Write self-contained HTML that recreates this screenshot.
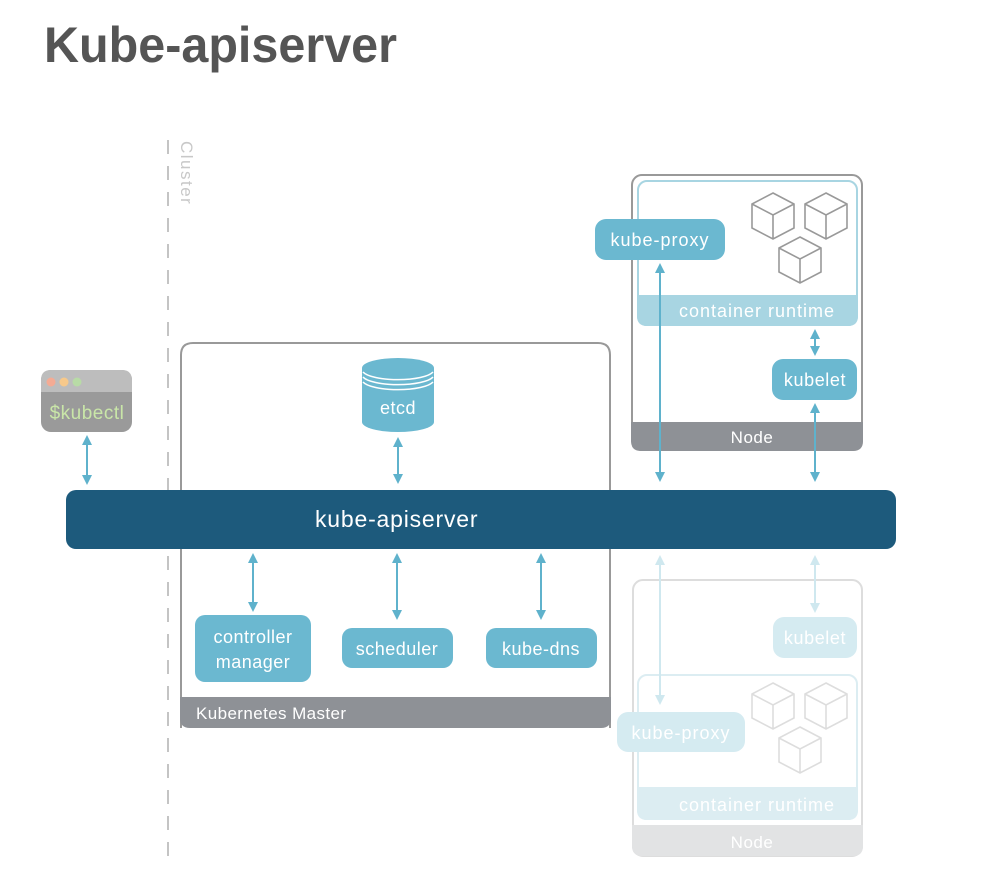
<!DOCTYPE html>
<html><head><meta charset="utf-8"><style>
html,body{margin:0;padding:0;background:#fff;width:995px;height:875px;overflow:hidden}
svg{display:block;font-family:"Liberation Sans",sans-serif}
</style></head><body>
<svg width="995" height="875" viewBox="0 0 995 875" xmlns="http://www.w3.org/2000/svg">
<defs>
<g id="cube" fill="none" stroke-width="1.6">
<path d="M21 0 L42 11 L42 35 L21 46 L0 35 L0 11 Z M0 11 L21 22 L42 11 M21 22 L21 46"/>
</g>
<marker id="ah" viewBox="0 0 10 10" refX="5" refY="5" markerWidth="5" markerHeight="5" orient="auto-start-reverse"><path d="M0 0 L10 5 L0 10 Z" fill="#5fb2cc"/></marker>
<marker id="ahf" viewBox="0 0 10 10" refX="5" refY="5" markerWidth="5" markerHeight="5" orient="auto-start-reverse"><path d="M0 0 L10 5 L0 10 Z" fill="#cfe8ef"/></marker>
</defs>
<text x="44" y="62" font-size="50" font-weight="bold" fill="#555" textLength="353" lengthAdjust="spacingAndGlyphs">Kube-apiserver</text>

<line x1="168" y1="140" x2="168" y2="856" stroke="#c4c4c4" stroke-width="2" stroke-dasharray="14,12"/>
<text transform="translate(181,141) rotate(90)" font-size="17" fill="#c8c8c8" letter-spacing="1.5">Cluster</text>

<!-- kubectl -->
<rect x="41" y="370" width="91" height="62" rx="10" fill="#9a9a9a"/>
<path d="M41 392 L41 380 Q41 370 51 370 L122 370 Q132 370 132 380 L132 392 Z" fill="#bdbdbd"/>
<circle cx="51" cy="382" r="4.5" fill="#f4ab94"/><circle cx="64" cy="382" r="4.5" fill="#f7c98b"/><circle cx="77" cy="382" r="4.5" fill="#b8dba6"/>
<text x="87" y="419" font-size="19" fill="#c9e6a8" text-anchor="middle" letter-spacing="0.5">$kubectl</text>
<line x1="87" y1="440" x2="87" y2="480" stroke="#5fb2cc" stroke-width="2" marker-start="url(#ah)" marker-end="url(#ah)"/>

<!-- master -->
<path d="M181 728 L181 355 Q181 343 193 343 L598 343 Q610 343 610 355 L610 728" fill="none" stroke="#999" stroke-width="2"/>
<path d="M180 697 L611 697 L611 718 Q611 728 601 728 L190 728 Q180 728 180 718 Z" fill="#8e9196"/>
<text x="196" y="719" font-size="17" fill="#fff" letter-spacing="0.4">Kubernetes Master</text>

<!-- etcd -->
<path d="M362 368 L362 422 A36 10 0 0 0 434 422 L434 368 Z" fill="#6bb8d0"/>
<ellipse cx="398" cy="368" rx="36" ry="10" fill="#6bb8d0"/>
<path d="M363 372 A36 10 0 0 0 433 372 M363 377 A36 10 0 0 0 433 377 M363 382 A36 10 0 0 0 433 382" fill="none" stroke="#fff" stroke-width="1.5"/>
<text x="398" y="414" font-size="18" fill="#fff" text-anchor="middle" letter-spacing="0.5">etcd</text>
<line x1="398" y1="442" x2="398" y2="479" stroke="#5fb2cc" stroke-width="2" marker-start="url(#ah)" marker-end="url(#ah)"/>

<!-- apiserver -->
<rect x="66" y="490" width="830" height="59" rx="10" fill="#1d5a7c"/>
<text x="315" y="527" font-size="23" fill="#fff" letter-spacing="0.8">kube-apiserver</text>

<!-- master components -->
<line x1="253" y1="558" x2="253" y2="607" stroke="#5fb2cc" stroke-width="2" marker-start="url(#ah)" marker-end="url(#ah)"/>
<line x1="397" y1="558" x2="397" y2="615" stroke="#5fb2cc" stroke-width="2" marker-start="url(#ah)" marker-end="url(#ah)"/>
<line x1="541" y1="558" x2="541" y2="615" stroke="#5fb2cc" stroke-width="2" marker-start="url(#ah)" marker-end="url(#ah)"/>
<rect x="195" y="615" width="116" height="67" rx="10" fill="#6bb8d0"/>
<text x="253" y="643" font-size="18" fill="#fff" text-anchor="middle" letter-spacing="0.5">controller</text>
<text x="253" y="668" font-size="18" fill="#fff" text-anchor="middle" letter-spacing="0.5">manager</text>
<rect x="342" y="628" width="111" height="40" rx="10" fill="#6bb8d0"/>
<text x="397" y="655" font-size="18" fill="#fff" text-anchor="middle" letter-spacing="0.5">scheduler</text>
<rect x="486" y="628" width="111" height="40" rx="10" fill="#6bb8d0"/>
<text x="541" y="655" font-size="18" fill="#fff" text-anchor="middle" letter-spacing="0.5">kube-dns</text>

<!-- node 1 -->
<rect x="632" y="175" width="230" height="275" rx="10" fill="none" stroke="#999" stroke-width="2"/>
<path d="M631 422 L863 422 L863 441 Q863 451 853 451 L641 451 Q631 451 631 441 Z" fill="#8e9196"/>
<text x="752" y="443" font-size="17" fill="#fff" text-anchor="middle" letter-spacing="0.5">Node</text>
<rect x="638" y="181" width="219" height="144" rx="9" fill="none" stroke="#a8d5e2" stroke-width="2"/>
<path d="M637 295 L858 295 L858 316 Q858 326 848 326 L647 326 Q637 326 637 316 Z" fill="#a8d5e2"/>
<text x="757" y="317" font-size="18" fill="#fff" text-anchor="middle" letter-spacing="1">container runtime</text>
<g stroke="#999"><use href="#cube" x="752" y="193"/><use href="#cube" x="805" y="193"/><use href="#cube" x="779" y="237"/></g>
<rect x="595" y="219" width="130" height="41" rx="11" fill="#6bb8d0"/>
<text x="660" y="246" font-size="18" fill="#fff" text-anchor="middle" letter-spacing="1">kube-proxy</text>
<rect x="772" y="359" width="85" height="41" rx="11" fill="#6bb8d0"/>
<text x="815" y="386" font-size="18" fill="#fff" text-anchor="middle" letter-spacing="0.6">kubelet</text>
<line x1="660" y1="268" x2="660" y2="477" stroke="#5fb2cc" stroke-width="2" marker-start="url(#ah)" marker-end="url(#ah)"/>
<line x1="815" y1="408" x2="815" y2="477" stroke="#5fb2cc" stroke-width="2" marker-start="url(#ah)" marker-end="url(#ah)"/>
<line x1="815" y1="334" x2="815" y2="351" stroke="#5fb2cc" stroke-width="2" marker-start="url(#ah)" marker-end="url(#ah)"/>

<!-- node 2 faded -->
<rect x="633" y="580" width="229" height="276" rx="10" fill="none" stroke="#ddd" stroke-width="2"/>
<path d="M632 825 L863 825 L863 846 Q863 856 853 856 L642 856 Q632 856 632 846 Z" fill="#e2e3e4"/>
<text x="752" y="848" font-size="17" fill="#fff" text-anchor="middle" letter-spacing="0.5">Node</text>
<rect x="638" y="675" width="219" height="144" rx="9" fill="none" stroke="#dcedf2" stroke-width="2"/>
<path d="M637 787 L858 787 L858 810 Q858 820 848 820 L647 820 Q637 820 637 810 Z" fill="#dcedf2"/>
<text x="757" y="811" font-size="18" fill="#fff" text-anchor="middle" letter-spacing="1">container runtime</text>
<g stroke="#ddd"><use href="#cube" x="752" y="683"/><use href="#cube" x="805" y="683"/><use href="#cube" x="779" y="727"/></g>
<rect x="617" y="712" width="128" height="40" rx="11" fill="#d5ebf1"/>
<text x="681" y="739" font-size="18" fill="#fff" text-anchor="middle" letter-spacing="1">kube-proxy</text>
<rect x="773" y="617" width="84" height="41" rx="11" fill="#d5ebf1"/>
<text x="815" y="644" font-size="18" fill="#fff" text-anchor="middle" letter-spacing="0.6">kubelet</text>
<line x1="660" y1="560" x2="660" y2="700" stroke="#cfe8ef" stroke-width="2" marker-start="url(#ahf)" marker-end="url(#ahf)"/>
<line x1="815" y1="560" x2="815" y2="608" stroke="#cfe8ef" stroke-width="2" marker-start="url(#ahf)" marker-end="url(#ahf)"/>
</svg>
</body></html>
